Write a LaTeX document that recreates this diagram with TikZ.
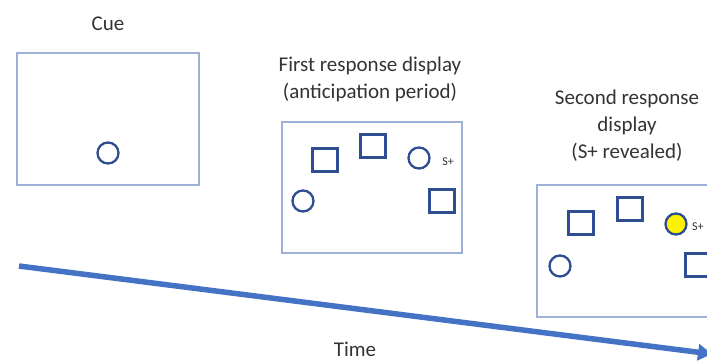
\documentclass[tikz,border=0pt]{standalone}
\usepackage{fontspec}
\setmainfont{Carlito}
\usetikzlibrary{arrows.meta}
\definecolor{frame}{HTML}{9DB0D6}
\definecolor{shape}{HTML}{2E4E91}
\definecolor{arrowc}{HTML}{4472C4}
\definecolor{txt}{HTML}{333333}
\tikzset{
  panel/.style={draw=frame, line width=1.2pt},
  sq/.style={draw=shape, line width=2.3pt, minimum width=25pt, minimum height=23pt, inner sep=0pt},
  circ/.style={draw=shape, line width=2.3pt, circle, minimum size=21pt, inner sep=0pt},
  ttl/.style={text=txt, font=\fontsize{21}{27}\selectfont, align=center},
  splus/.style={text=txt, font=\fontsize{12}{12}\selectfont, inner sep=0pt}
}
\begin{document}
\begin{tikzpicture}[x=1pt,y=-1pt]
\useasboundingbox (0,0) rectangle (707,360);
% Cue
\node[ttl] (cuet) at (108,24) {Cue};
\draw[panel] (17,53) rectangle (199,185);
\node[circ] (c0) at (108,153) {};
% First response
\node[ttl] (firstt) at (370,79) {First response display\\(anticipation period)};
\draw[panel] (282,122) rectangle (462,253);
\node[sq] (f1) at (325,160) {};
\node[sq] (f2) at (373,146) {};
\node[circ] (f3) at (419,158) {};
\node[splus] (fs) at (448,162) {S+};
\node[circ] (f4) at (303,201) {};
\node[sq] (f5) at (442,201) {};
% Second response
\node[ttl] (secondt) at (627,126) {Second response\\display\\(S+ revealed)};
\draw[panel] (537,185) -- (720,185) (537,185) rectangle (720,317);
\node[sq] (s1) at (581,223) {};
\node[sq] (s2) at (630,209) {};
\node[circ, fill=yellow] (s3) at (676,224) {};
\node[splus, anchor=west] (ss) at (692,227) {S+};
\node[circ] (s4) at (560,266) {};
\node[sq] (s5) at (698,265) {};
% Time arrow
\coordinate (ta) at (19,266);
\coordinate (tb) at (712,354);
\draw[arrowc, line width=5.5pt, -{Triangle[length=14pt,width=16pt]}] (ta) -- (tb);
\node[ttl] (timet) at (355,349) {Time};
\end{tikzpicture}
\end{document}
